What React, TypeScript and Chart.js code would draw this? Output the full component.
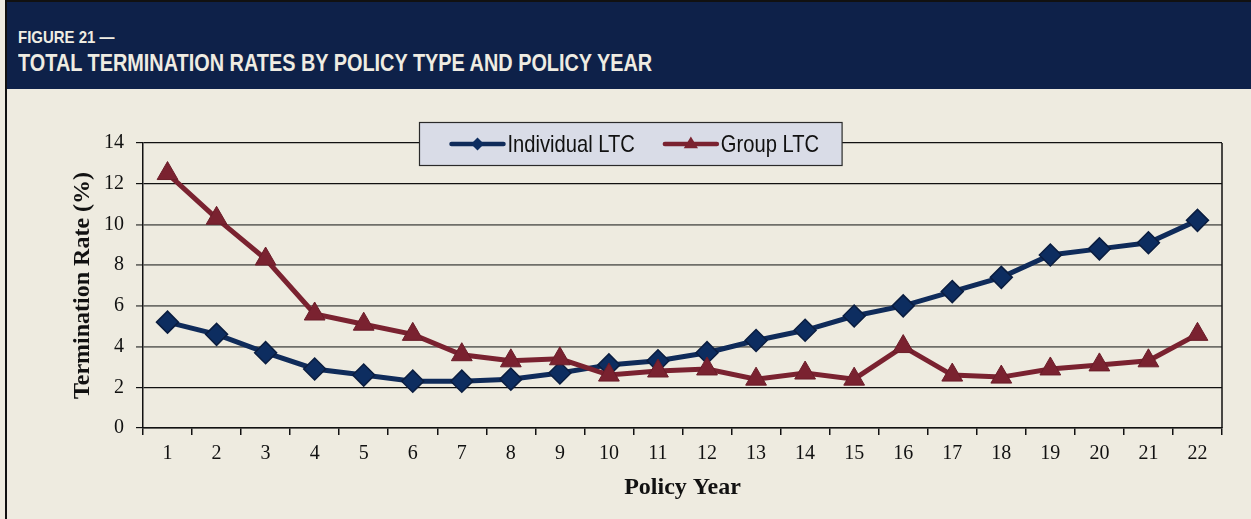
import React, { useEffect, useRef } from "react";
import { Chart, registerables } from "chart.js";

Chart.register(...registerables);

const policyYears: string[] = [
  "1", "2", "3", "4", "5", "6", "7", "8", "9", "10", "11",
  "12", "13", "14", "15", "16", "17", "18", "19", "20", "21", "22",
];

const individualLTC: number[] = [
  5.2, 4.6, 3.7, 2.9, 2.6, 2.3, 2.3, 2.4, 2.7, 3.1, 3.3,
  3.7, 4.3, 4.8, 5.5, 6.0, 6.7, 7.4, 8.5, 8.8, 9.1, 10.2,
];

const groupLTC: number[] = [
  12.5, 10.3, 8.3, 5.6, 5.1, 4.6, 3.6, 3.3, 3.4, 2.6, 2.8,
  2.9, 2.4, 2.7, 2.4, 4.0, 2.6, 2.5, 2.9, 3.1, 3.3, 4.6,
];

const seriesLabels: string[] = ["Individual LTC", "Group LTC"];
const yTicks: number[] = [0, 2, 4, 6, 8, 10, 12, 14];

const NAVY = "#0e2149";
const BEIGE = "#eeebe0";
const BLUE = "#0f2b5a";
const BLUE_DARK = "#0a1d40";
const RED = "#7a2230";
const RED_DARK = "#6a1c28";
const SANS = "'Liberation Sans', Arial, sans-serif";
const SERIF = "'Liberation Serif', 'Times New Roman', serif";
const LEGEND_SQUEEZE = 0.84;

const frameAndLegend = {
  id: "frameAndLegend",
  afterDraw(chart: any) {
    const { ctx, chartArea } = chart;
    ctx.save();
    // right border of plot area
    ctx.strokeStyle = "#111";
    ctx.lineWidth = 1.5;
    ctx.beginPath();
    ctx.moveTo(chartArea.right, chartArea.top);
    ctx.lineTo(chartArea.right, chartArea.bottom);
    ctx.stroke();

    // legend
    const font = `24px ${SANS}`;
    ctx.font = font;
    const sample = 56;
    const gapText = 2;
    const gapItem = 28;
    const padL = 30;
    const padR = 23;
    const items = chart.data.datasets.map((ds: any) => ({
      ds,
      w: ctx.measureText(ds.label).width * LEGEND_SQUEEZE,
    }));
    let total = padL + padR;
    items.forEach((it: any, i: number) => {
      total += sample + gapText + it.w + (i < items.length - 1 ? gapItem : 0);
    });
    const boxX = chartArea.left + 276.5;
    const boxY = chartArea.top - 20.5;
    const boxH = 43;
    ctx.fillStyle = "#d9dce7";
    ctx.fillRect(boxX, boxY, total, boxH);
    ctx.strokeStyle = "#2a2a2a";
    ctx.lineWidth = 1.2;
    ctx.strokeRect(boxX, boxY, total, boxH);
    const cy = boxY + boxH / 2;
    let x = boxX + padL;
    items.forEach((it: any) => {
      const ds = it.ds;
      ctx.strokeStyle = ds.borderColor;
      ctx.lineWidth = 4.5;
      ctx.lineCap = "round";
      ctx.beginPath();
      ctx.moveTo(x + 2, cy);
      ctx.lineTo(x + sample - 2, cy);
      ctx.stroke();
      ctx.lineCap = "butt";
      ctx.fillStyle = ds.pointBackgroundColor;
      ctx.beginPath();
      const mx = x + sample / 2;
      if (ds.pointStyle === "rectRot") {
        const r = 6.5;
        ctx.moveTo(mx, cy - r);
        ctx.lineTo(mx + r, cy);
        ctx.lineTo(mx, cy + r);
        ctx.lineTo(mx - r, cy);
      } else {
        const r = 7.5;
        ctx.moveTo(mx, cy - r);
        ctx.lineTo(mx + r * 0.95, cy + r * 0.55);
        ctx.lineTo(mx - r * 0.95, cy + r * 0.55);
      }
      ctx.closePath();
      ctx.fill();
      ctx.fillStyle = "#111";
      ctx.font = font;
      ctx.textBaseline = "middle";
      ctx.textAlign = "left";
      ctx.save();
      ctx.translate(x + sample + gapText, cy + 1);
      ctx.scale(LEGEND_SQUEEZE, 1);
      ctx.fillText(ds.label, 0, 0);
      ctx.restore();
      x += sample + gapText + it.w + gapItem;
    });
    ctx.restore();
  },
};

export default function App() {
  const canvasRef = useRef<HTMLCanvasElement | null>(null);

  useEffect(() => {
    if (!canvasRef.current) return;
    const chart = new Chart(canvasRef.current, {
      type: "line",
      data: {
        labels: policyYears,
        datasets: [
          {
            label: seriesLabels[0],
            data: individualLTC,
            borderColor: BLUE,
            borderWidth: 5,
            pointStyle: "rectRot",
            pointRadius: 11,
            pointBackgroundColor: "#0d2d60",
            pointBorderColor: BLUE_DARK,
            pointBorderWidth: 1.5,
            tension: 0,
            order: 1,
          },
          {
            label: seriesLabels[1],
            data: groupLTC,
            borderColor: RED,
            borderWidth: 5,
            pointStyle: "triangle",
            pointRadius: 12,
            pointBackgroundColor: RED,
            pointBorderColor: RED_DARK,
            pointBorderWidth: 1,
            tension: 0,
            order: 0,
          },
        ],
      },
      options: {
        animation: false,
        responsive: false,
        maintainAspectRatio: false,
        layout: { padding: { left: 0, top: 54, right: 29, bottom: 0 } },
        plugins: {
          legend: { display: false },
          tooltip: { enabled: false },
          title: { display: false },
        },
        scales: {
          x: {
            type: "category",
            offset: true,
            grid: {
              offset: true,
              drawOnChartArea: false,
              drawTicks: true,
              tickLength: 7,
              color: "#111",
              lineWidth: 1.5,
            },
            border: { display: true, color: "#111", width: 1.5 },
            ticks: {
              color: "#111",
              font: { family: SERIF, size: 20 },
              padding: 7,
              maxRotation: 0,
              autoSkip: false,
            },
            title: {
              display: true,
              text: "Policy Year",
              color: "#111",
              font: { family: SERIF, size: 24, weight: "bold" },
              padding: { top: 0, bottom: 17 },
            },
            afterFit(scale: any) {
              scale.height = 91;
            },
          },
          y: {
            min: 0,
            max: 14,
            afterBuildTicks(scale: any) {
              scale.ticks = yTicks.map((v) => ({ value: v }));
            },
            grid: {
              drawTicks: true,
              tickLength: 7,
              color: (c: any) => {
                const v = c.tick ? c.tick.value : 0;
                return v >= 4 && v <= 10 ? "#6f6f6a" : "#111";
              },
              lineWidth: (c: any) => {
                const v = c.tick ? c.tick.value : 0;
                return v >= 4 && v <= 10 ? 1.8 : 1.2;
              },
            },
            border: { display: true, color: "#111", width: 1.5 },
            ticks: {
              color: "#111",
              font: { family: SERIF, size: 20 },
              padding: 12,
            },
            title: {
              display: true,
              text: "Termination Rate (%)",
              color: "#111",
              font: { family: SERIF, size: 24, weight: "bold" },
              padding: { top: 61, bottom: 0 },
            },
            afterFit(scale: any) {
              scale.width = 136;
            },
          },
        },
      },
      plugins: [frameAndLegend],
    });
    return () => chart.destroy();
  }, []);

  const headText: React.CSSProperties = {
    position: "absolute",
    left: 11,
    color: "#efece2",
    fontFamily: SANS,
    fontWeight: "bold",
    whiteSpace: "nowrap",
    transformOrigin: "0 0",
  };

  return (
    <div
      style={{
        position: "absolute",
        left: 0,
        top: 0,
        width: 1251,
        height: 519,
        background: BEIGE,
        overflow: "hidden",
      }}
    >
      <div
        style={{
          position: "absolute",
          left: 5,
          top: 0,
          width: 1246,
          height: 519,
          borderLeft: "2px solid #111",
          borderTop: "2px solid #111",
          boxSizing: "border-box",
        }}
      />
      <div
        style={{
          position: "absolute",
          left: 7,
          top: 2,
          width: 1244,
          height: 87,
          background: NAVY,
        }}
      >
        <div
          style={{
            ...headText,
            top: 26,
            fontSize: 17,
            lineHeight: "20px",
            transform: "scaleX(0.88)",
          }}
        >
          FIGURE 21 —
        </div>
        <div
          style={{
            ...headText,
            top: 48,
            fontSize: 23,
            lineHeight: "26px",
            transform: "scaleX(0.864)",
          }}
        >
          TOTAL TERMINATION RATES BY POLICY TYPE AND POLICY YEAR
        </div>
      </div>
      <canvas
        ref={canvasRef}
        width={1244}
        height={430}
        style={{ position: "absolute", left: 7, top: 89, width: 1244, height: 430 }}
      />
    </div>
  );
}
